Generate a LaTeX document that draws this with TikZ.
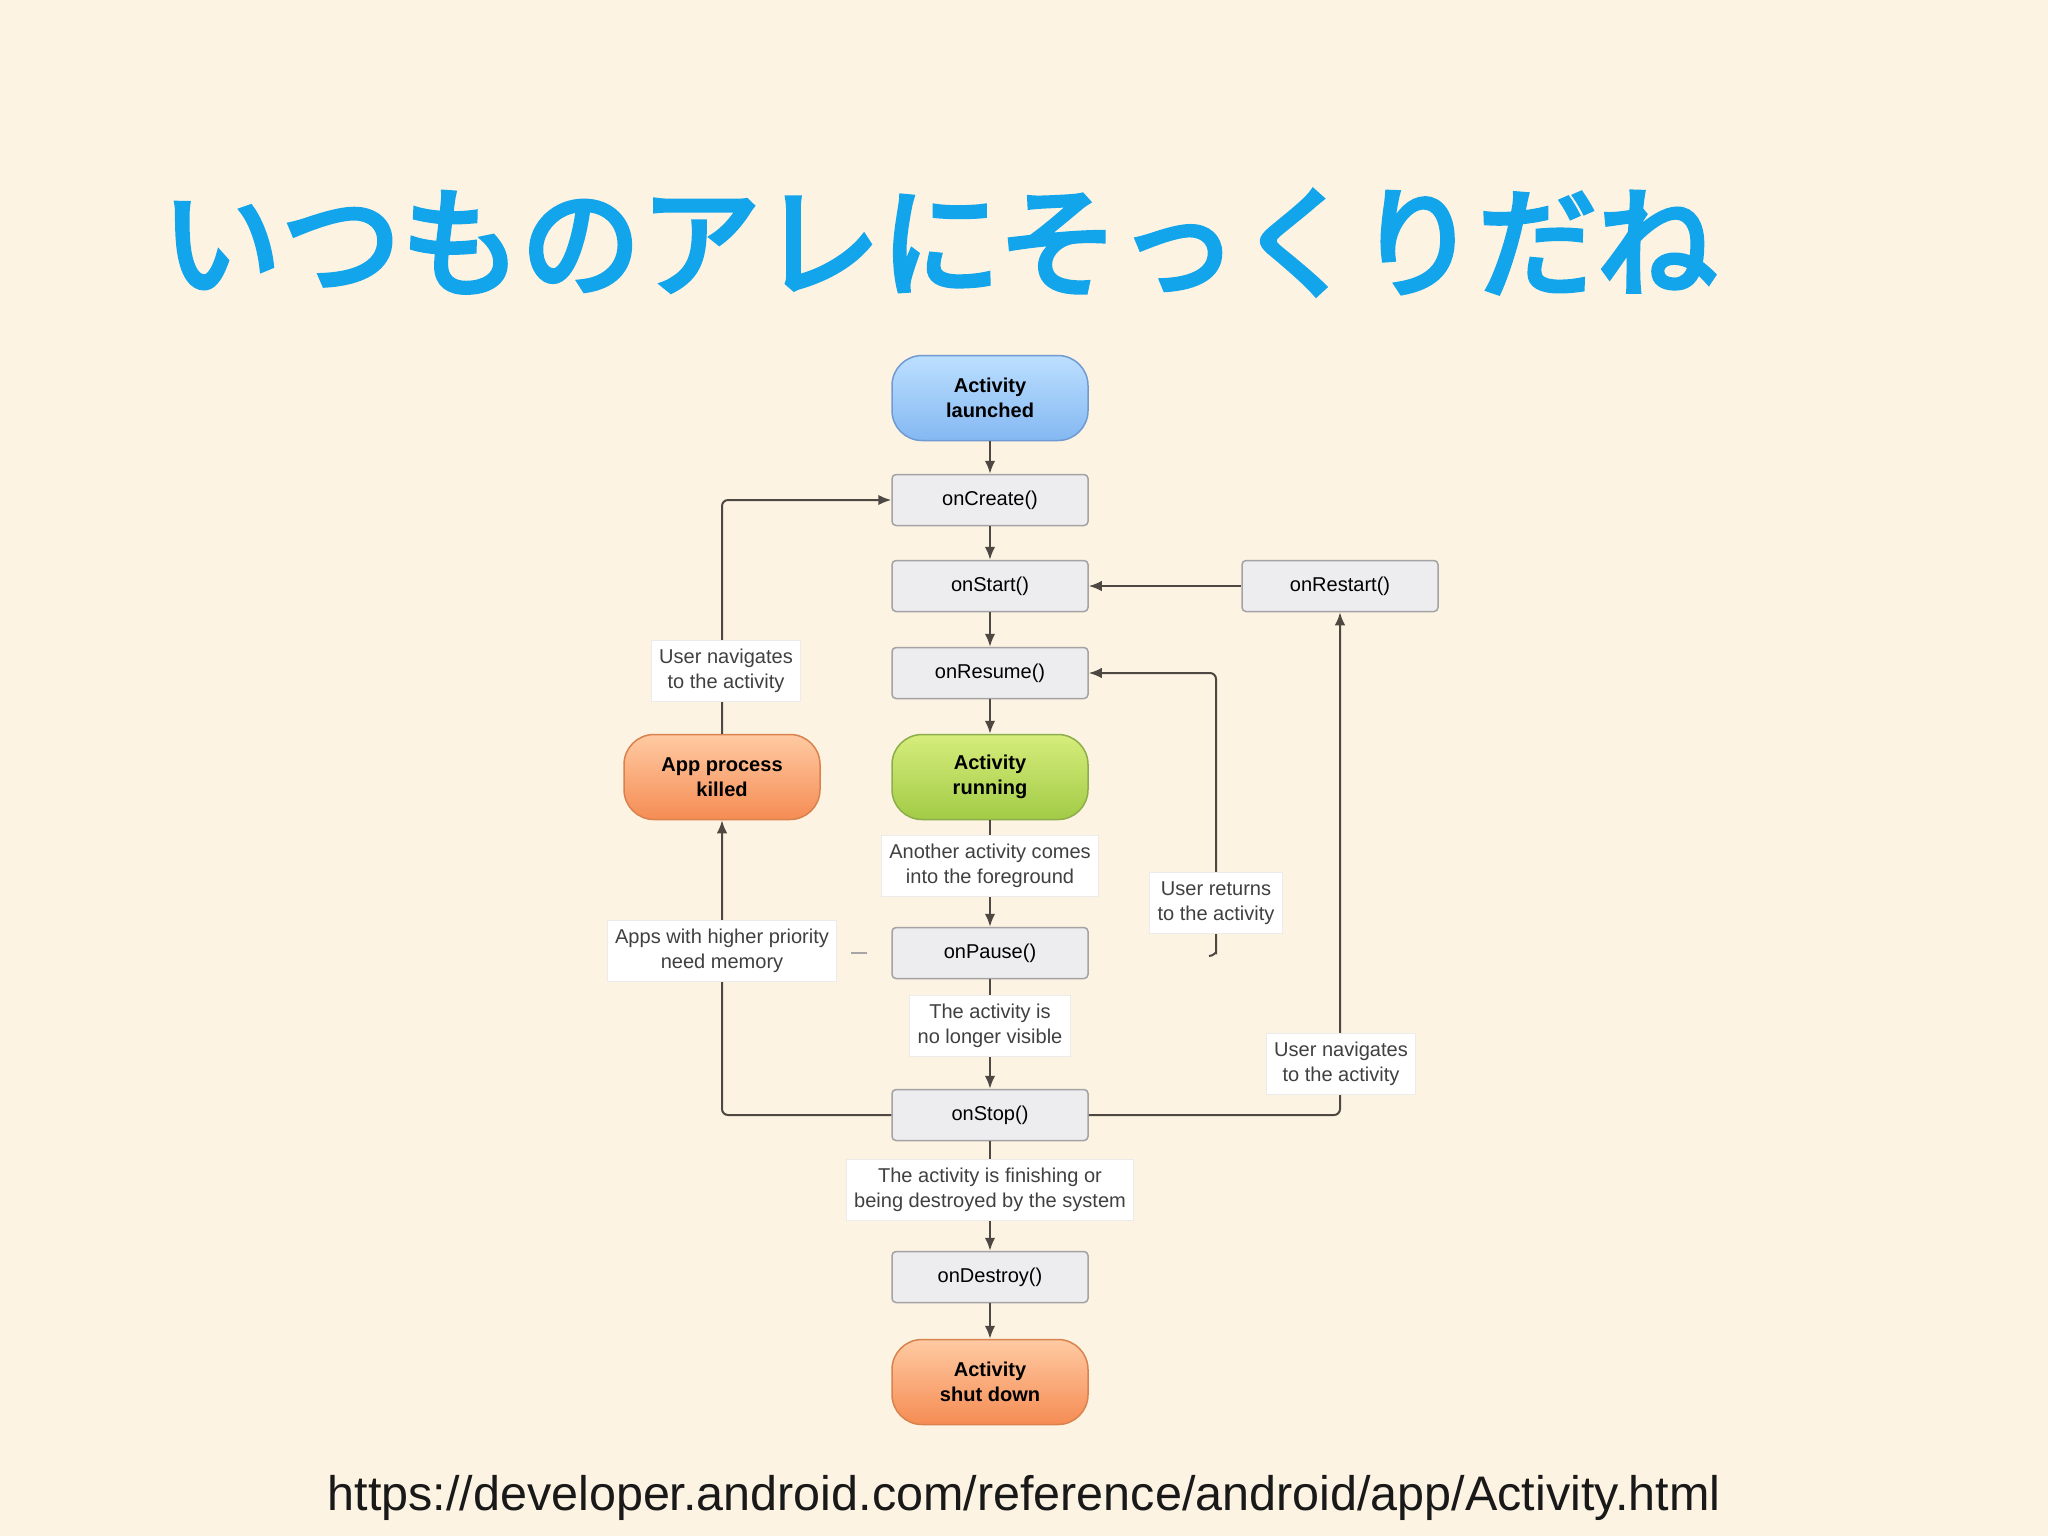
\documentclass[tikz,border=0pt]{standalone}
\usepackage{fontspec}
\setmainfont{Liberation Sans}
\newfontfamily\cjk{Noto Sans CJK JP}[FakeBold=4]
\usetikzlibrary{arrows.meta}

\definecolor{slidebg}{HTML}{FDF3E2}
\definecolor{titleblue}{HTML}{12A5EC}
\definecolor{linegray}{HTML}{4D4842}
\definecolor{boxfill}{HTML}{EDEDF0}
\definecolor{boxline}{HTML}{A3A3A6}
\definecolor{bluetop}{HTML}{BCDFFF}
\definecolor{bluebot}{HTML}{84B8F2}
\definecolor{blueline}{HTML}{6F9AD2}
\definecolor{greentop}{HTML}{D6ED7C}
\definecolor{greenbot}{HTML}{A2CB46}
\definecolor{greenline}{HTML}{8CAE4A}
\definecolor{orangetop}{HTML}{FFCAA2}
\definecolor{orangebot}{HTML}{F58C54}
\definecolor{orangeline}{HTML}{D9824E}

\begin{document}
\begin{tikzpicture}[x=0.1mm, y=-0.1mm, thick,
    method/.style = {draw=boxline, fill=boxfill, line width=0.15mm, rounded corners=0.4mm,
        minimum width=19.6mm, minimum height=5.1mm, font=\fontsize{5.7}{7}\selectfont},
    state/.style = {line width=0.15mm, rounded corners=3mm, minimum width=19.6mm,
        minimum height=8.5mm, align=center, font=\fontsize{5.7}{7}\selectfont\bfseries},
    launchstate/.style = {state, draw=blueline, top color=bluetop, bottom color=bluebot},
    runstate/.style = {state, draw=greenline, top color=greentop, bottom color=greenbot},
    endstate/.style = {state, draw=orangeline, top color=orangetop, bottom color=orangebot},
    note/.style = {draw=black!8, fill=white, line width=0.1mm, align=center, inner xsep=0.8mm,
        inner ysep=0.9mm, text=black!75, font=\fontsize{5.7}{7}\selectfont},
    flow/.style = {draw=linegray, line width=0.2mm, rounded corners=0.6mm, -{Latex[length=1.3mm, width=1.05mm]}}]

    \useasboundingbox[fill=slidebg] (0,0) rectangle (2048,1536);

    \node[text=titleblue, anchor=base west, inner sep=0pt, font=\cjk\fontsize{34.1}{40}\selectfont]
        (title) at (160,287) {いつものアレにそっくりだね};

    % main column
    \node[launchstate] (launched) at (990,398) {Activity\\launched};
    \node[method] (create) [below of=launched, node distance=10.2mm] {onCreate()};
    \node[method] (start) [below of=create, node distance=8.6mm] {onStart()};
    \node[method] (resume) [below of=start, node distance=8.7mm] {onResume()};
    \node[runstate] (running) [below of=resume, node distance=10.4mm] {Activity\\running};
    \node[method] (pause) [below of=running, node distance=17.6mm] {onPause()};
    \node[method] (stop) [below of=pause, node distance=16.2mm] {onStop()};
    \node[method] (destroy) [below of=stop, node distance=16.2mm] {onDestroy()};
    \node[endstate] (shutdown) [below of=destroy, node distance=10.5mm] {Activity\\shut down};

    % side nodes
    \node[method] (restart) [right of=start, node distance=35mm] {onRestart()};
    \node[endstate] (killed) [left of=running, node distance=26.8mm] {App process\\killed};
    \coordinate (hook) at (1209,956);

    \draw[flow] (launched) -- (create);
    \draw[flow] (create) -- (start);
    \draw[flow] (start) -- (resume);
    \draw[flow] (resume) -- (running);
    \draw[flow] (running) -- (pause);
    \draw[flow] (pause) -- (stop);
    \draw[flow] (stop) -- (destroy);
    \draw[flow] (destroy) -- (shutdown);
    \draw[flow] (restart) -- (start);
    \draw[flow] (stop.west) -| (killed.south);
    \draw[flow] (killed.north) |- (create.west);
    \draw[flow] (stop.east) -| (restart.south);
    \draw[flow] (hook) to[out=0, in=-90] ++(7,-9) |- (resume.east);
    \draw[black!35, line width=0.15mm] ([xshift=-2.4mm]pause.west) -- ++(-1.6mm,0);

    % labels on the connectors
    \node[note] (foreground) at (990,866) {Another activity comes\\into the foreground};
    \node[note] (hidden) at (990,1026) {The activity is\\no longer visible};
    \node[note] (finishing) at (990,1190) {The activity is finishing or\\being destroyed by the system};
    \node[note] (navleft) at (726,671) {User navigates\\to the activity};
    \node[note] (memory) at (722,951) {Apps with higher priority\\need memory};
    \node[note] (returns) at (1216,903) {User returns\\to the activity};
    \node[note] (navright) at (1341,1064) {User navigates\\to the activity};

    \node[anchor=base, inner sep=0pt, text=black!90, font=\fontsize{13.8}{16}\selectfont]
        (url) at (1024,1510) {https://developer.android.com/reference/android/app/Activity.html};
\end{tikzpicture}
\end{document}
